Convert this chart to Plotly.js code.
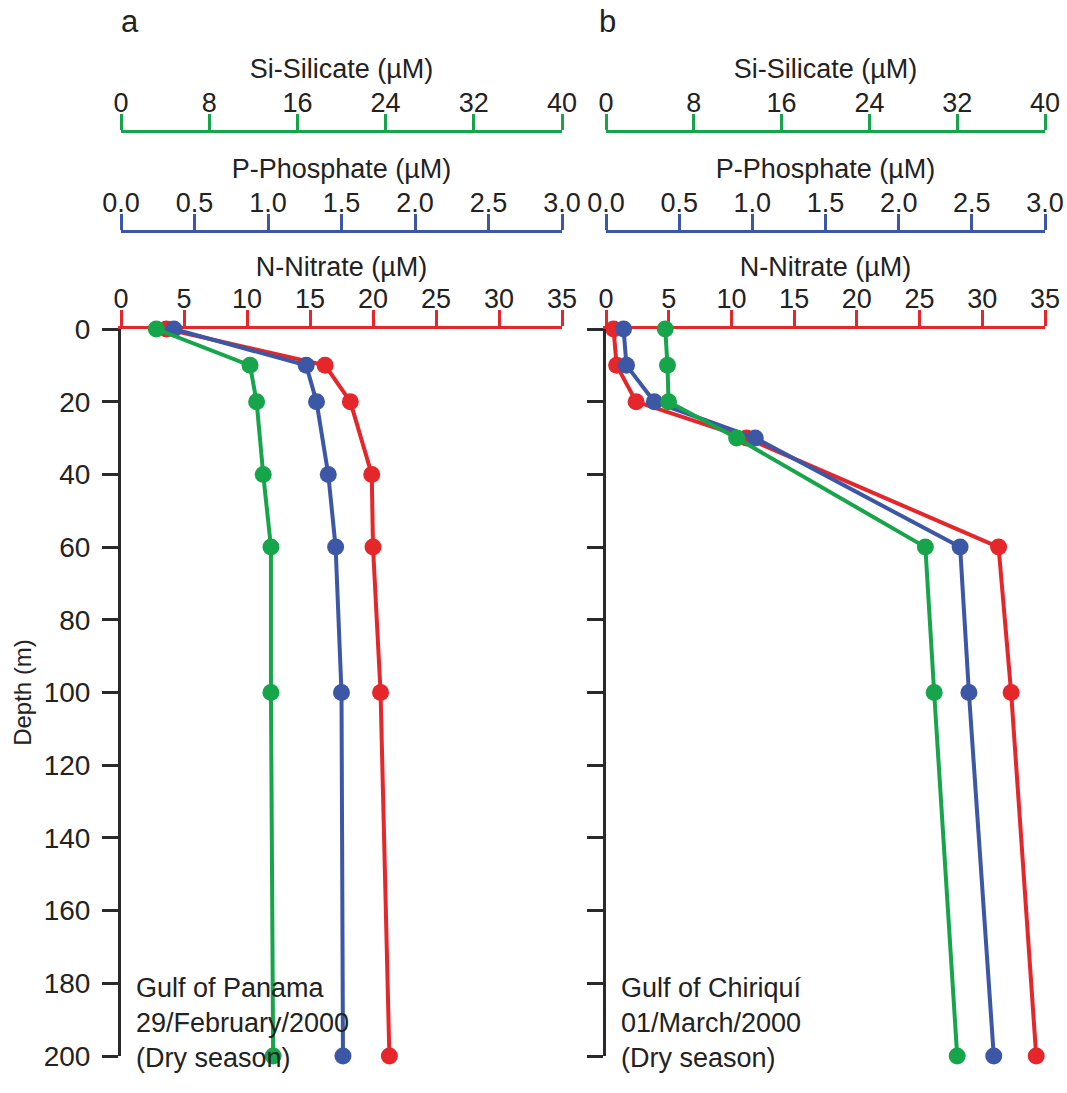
<!DOCTYPE html>
<html>
<head>
<meta charset="utf-8">
<script src="https://cdn.plot.ly/plotly-3.0.1.min.js"></script>
<style>html,body{margin:0;padding:0;background:#fff;}#chart{width:1067px;height:1093px;}</style>
</head>
<body>
<div id="chart"></div>
<script>
// Depths (m)
const depthA = [0, 10, 20, 40, 60, 100, 200];
const depthB = [0, 10, 20, 30, 60, 100, 200];

// Panel a: Gulf of Panama, 29/February/2000
const nitrateA = [3.6, 16.2, 18.2, 19.9, 20.0, 20.6, 21.3];
const phosphateA = [0.36, 1.26, 1.33, 1.41, 1.46, 1.50, 1.51];
const silicateA = [3.2, 11.7, 12.3, 12.9, 13.6, 13.6, 13.8];

// Panel b: Gulf of Chiriquí, 01/March/2000
const nitrateB = [0.6, 0.85, 2.4, 11.2, 31.3, 32.3, 34.3];
const phosphateB = [0.12, 0.14, 0.33, 1.02, 2.42, 2.48, 2.65];
const silicateB = [5.4, 5.6, 5.7, 11.9, 29.1, 29.9, 32.0];

const depthTicks = [0, 20, 40, 60, 80, 100, 120, 140, 160, 180, 200];
const nitrateTicks = [0, 5, 10, 15, 20, 25, 30, 35];
const phosphateTicks = [0, 0.5, 1.0, 1.5, 2.0, 2.5, 3.0];
const silicateTicks = [0, 8, 16, 24, 32, 40];

const RED = '#e5262b', BLUE = '#3b57a6', GREEN = '#17a54b', BLACK = '#2a2a2a', TXT = '#222';
const W = 1067, H = 1093;
const px = v => v / W;
const py = v => 1 - v / H;
const FONT = 'Liberation Sans, Arial, sans-serif';
const TICK = 27, TITLE = 27;

function tr(x, y, xa, ya, color) {
  return {x: x, y: y, xaxis: xa, yaxis: ya, type: 'scatter', mode: 'lines+markers',
    line: {color: color, width: 4}, marker: {color: color, size: 17},
    cliponaxis: false, showlegend: false, hoverinfo: 'x+y'};
}

const data = [
  tr(silicateA, depthA, 'x3', 'y', GREEN),
  tr(phosphateA, depthA, 'x2', 'y', BLUE),
  tr(nitrateA, depthA, 'x', 'y', RED),
  tr(silicateB, depthB, 'x6', 'y2', GREEN),
  tr(phosphateB, depthB, 'x5', 'y2', BLUE),
  tr(nitrateB, depthB, 'x4', 'y2', RED)
];

const yDom = [py(1056), py(329)];
const domA = [px(121), px(562)];
const domB = [px(606), px(1045)];

function ttl(text) {
  return {text: text, font: {family: FONT, size: TITLE, color: TXT}, standoff: 0};
}
function xAxis(opts) {
  const base = {
    side: 'top', showgrid: false, zeroline: false, showline: true,
    linewidth: 3, ticks: 'outside', ticklen: 16, tickwidth: 3,
    ticklabelstandoff: -9,
    tickfont: {family: FONT, size: TICK, color: TXT},
    fixedrange: true, layer: 'below traces'
  };
  return Object.assign(base, opts);
}
function yAxis(opts) {
  const base = {
    domain: yDom, range: [200, 0], autorange: false, tickvals: depthTicks,
    showgrid: false, zeroline: false, showline: true, linecolor: BLACK, linewidth: 3,
    ticks: 'outside', ticklen: 16, tickwidth: 3, tickcolor: BLACK,
    ticklabelstandoff: 6,
    tickfont: {family: FONT, size: 28, color: TXT}, fixedrange: true
  };
  return Object.assign(base, opts);
}

function nAx(dom, anchor) {
  return xAxis({domain: dom, anchor: anchor, range: [0, 35], tickvals: nitrateTicks,
    linecolor: RED, tickcolor: RED, title: ttl('N-Nitrate (µM)')});
}
function pAx(over) {
  return xAxis({overlaying: over, anchor: 'free', position: py(231), range: [0, 3], tickvals: phosphateTicks,
    tickformat: '.1f', linecolor: BLUE, tickcolor: BLUE, title: ttl('P-Phosphate (µM)')});
}
function sAx(over) {
  return xAxis({overlaying: over, anchor: 'free', position: py(131), range: [0, 40], tickvals: silicateTicks,
    linecolor: GREEN, tickcolor: GREEN, title: ttl('Si-Silicate (µM)')});
}

const layout = {
  width: W, height: H, margin: {l: 0, r: 0, t: 0, b: 0},
  paper_bgcolor: '#fff', plot_bgcolor: 'rgba(0,0,0,0)',
  font: {family: FONT, color: TXT},
  xaxis: nAx(domA, 'y'),
  xaxis2: pAx('x'),
  xaxis3: sAx('x'),
  xaxis4: nAx(domB, 'y2'),
  xaxis5: pAx('x4'),
  xaxis6: sAx('x4'),
  yaxis: yAxis({anchor: 'x', title: {text: 'Depth (m)', font: {family: FONT, size: 24, color: TXT}, standoff: 6}}),
  yaxis2: yAxis({anchor: 'x4', showticklabels: false}),
  annotations: [
    {text: 'a', xref: 'paper', yref: 'paper', x: px(119), y: py(22), xanchor: 'left', yanchor: 'middle', showarrow: false, font: {family: FONT, size: 31, color: TXT}},
    {text: 'b', xref: 'paper', yref: 'paper', x: px(597), y: py(22), xanchor: 'left', yanchor: 'middle', showarrow: false, font: {family: FONT, size: 31, color: TXT}},
    {text: 'Gulf of Panama<br>29/February/2000<br>(Dry season)', xref: 'paper', yref: 'paper', x: px(134), y: py(1023), xanchor: 'left', yanchor: 'middle', align: 'left', showarrow: false, font: {family: FONT, size: 27, color: TXT}},
    {text: 'Gulf of Chiriquí<br>01/March/2000<br>(Dry season)', xref: 'paper', yref: 'paper', x: px(619), y: py(1023), xanchor: 'left', yanchor: 'middle', align: 'left', showarrow: false, font: {family: FONT, size: 27, color: TXT}}
  ]
};

Plotly.newPlot('chart', data, layout, {displayModeBar: false, staticPlot: true});
</script>
</body>
</html>
